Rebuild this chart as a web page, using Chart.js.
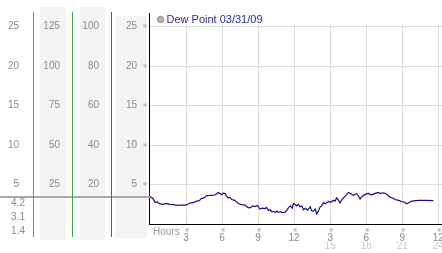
<!DOCTYPE html>
<html>
<head>
<meta charset="utf-8">
<script src="https://cdn.jsdelivr.net/npm/chart.js@4/dist/chart.umd.min.js"></script>
<style>
  body { margin: 0; background: #fff; }
  #wrap { width: 442px; height: 253px; }
</style>
</head>
<body>
<div id="wrap"><canvas id="grafica" width="442" height="253"></canvas></div>
<script>
const hours = [
  0.00, 0.25, 0.42, 0.6, 0.83, 1.1, 1.35, 1.66, 2.0, 2.22,
  2.5, 2.91, 3.1, 3.33, 3.6, 3.89, 4.1, 4.3, 4.5, 4.72,
  5.0, 5.27, 5.45, 5.68, 5.85, 5.96, 6.1, 6.24, 6.4, 6.51,
  6.65, 6.8, 7.07, 7.2, 7.35, 7.63, 7.9, 8.18, 8.4, 8.55,
  8.74, 8.95, 9.15, 9.35, 9.57, 9.7, 9.86, 10.0, 10.15, 10.27,
  10.45, 10.55, 10.69, 10.85, 11.0, 11.25, 11.4, 11.52, 11.7, 11.85,
  11.94, 12.1, 12.22, 12.35, 12.5, 12.65, 12.77, 12.95, 13.1, 13.19,
  13.35, 13.45, 13.6, 13.75, 13.88, 14.0, 14.16, 14.3, 14.44, 14.6,
  14.86, 15.05, 15.27, 15.4, 15.55, 15.7, 15.82, 15.95, 16.1, 16.3,
  16.52, 16.7, 16.93, 17.05, 17.21, 17.35, 17.49, 17.6, 17.76, 17.95,
  18.18, 18.3, 18.46, 18.7, 19.01, 19.2, 19.35, 19.57, 19.75, 19.98,
  20.2, 20.4, 20.7, 20.95, 21.2, 21.37, 21.6, 21.79, 22.34, 22.9,
  23.58
];
const dewPoint = [
  3.5, 3.2, 2.75, 2.8, 2.55, 2.5, 2.6, 2.48, 2.45, 2.35,
  2.4, 2.4, 2.45, 2.65, 2.7, 2.9, 2.95, 3.25, 3.3, 3.6,
  3.62, 3.65, 3.7, 4.0, 3.85, 3.7, 3.9, 3.85, 3.5, 3.3,
  3.4, 3.1, 3.0, 2.8, 2.6, 2.45, 2.4, 2.05, 2.1, 2.3,
  2.2, 2.35, 1.9, 2.0, 1.95, 2.1, 1.7, 1.8, 1.55, 1.6,
  1.45, 1.65, 1.47, 1.55, 1.45, 1.5, 1.8, 2.05, 2.3, 2.0,
  2.6, 2.45, 2.3, 2.5, 2.15, 2.3, 1.8, 2.0, 1.75, 1.9,
  2.2, 1.7, 1.6, 1.9, 1.27, 1.6, 2.15, 2.3, 2.7, 2.55,
  2.85, 2.75, 3.0, 2.9, 3.3, 3.0, 2.65, 3.0, 3.3, 3.6,
  4.0, 3.85, 3.6, 3.75, 3.85, 3.55, 3.15, 3.4, 3.6, 3.75,
  3.9, 3.75, 3.7, 3.85, 4.0, 3.85, 3.95, 3.9, 3.7, 3.4,
  3.3, 3.1, 3.0, 2.85, 2.75, 2.55, 2.75, 2.9, 3.0, 3.0,
  2.95
];
const serieNombre = "Dew Point 03/31/09";
const xTicks = [3, 6, 9, 12, 15, 18, 21, 24];
const xLabels = ["3", "6", "9", "12", "3", "6", "9", "12"];
const xLabels2 = ["", "", "", "", "15", "18", "21", "24"];
const yTicks = [5, 10, 15, 20, 25];
const colA = [5, 10, 15, 20, 25];
const colB = [25, 50, 75, 100, 125];
const colC = [20, 40, 60, 80, 100];
const resumen = ["4.2", "3.1", "1.4"];

const yMax = 25.34;
const fuente = { family: "'Liberation Sans', Arial, sans-serif", size: 10 };
const gris = "#8a8a8a";

function ejeIzq(valores, factor, ancho, pad, peso) {
  return {
    position: 'left', weight: peso, min: 0, max: yMax * factor,
    grid: { display: false, drawTicks: false }, border: { display: false },
    afterBuildTicks: s => { s.ticks = valores.map(v => ({ value: v })); },
    afterFit: s => { s.width = ancho; s.paddingTop = 0; s.paddingBottom = 0; },
    ticks: { font: fuente, color: gris, padding: pad, autoSkip: false }
  };
}

const deco = {
  id: 'deco',
  beforeDraw(chart) {
    const ctx = chart.ctx, s = chart.scales;
    ctx.save();
    ctx.fillStyle = '#f4f4f4';
    ctx.fillRect(s.yB.left + 7, 7, 26, 233);
    ctx.fillRect(s.yC.left + 8, 7, 25, 233);
    ctx.fillRect(s.y.left + 4, 16, s.y.width - 6, 222);
    ctx.restore();
  },
  afterDraw(chart) {
    const ctx = chart.ctx, s = chart.scales;
    ctx.save();
    const yLinea = Math.round(s.y.getPixelForValue(dewPoint[0]));
    ctx.fillStyle = '#a8a8a8';
    ctx.fillRect(0, yLinea, s.y.right + 1, 2);
    ctx.fillStyle = '#2fa5c0';
    ctx.fillRect(Math.round(s.yA.right), 12, 1, 225);
    ctx.fillStyle = '#3aa83a';
    ctx.fillRect(Math.round(s.yB.right), 12, 1, 225);
    ctx.fillStyle = '#b83333';
    ctx.fillRect(Math.round(s.yC.right), 12, 1, 225);
    ctx.fillStyle = '#000';
    ctx.fillRect(Math.round(s.y.right), 13, 1, chart.chartArea.top - 13);

    ctx.font = "10px 'Liberation Sans', Arial, sans-serif";
    ctx.fillStyle = gris;
    ctx.textAlign = 'right';
    ctx.textBaseline = 'middle';
    resumen.forEach((t, i) => ctx.fillText(t, 25, yLinea + 7 + i * 14));

    ctx.textAlign = 'left';
    ctx.fillStyle = '#999';
    ctx.fillText("Hours", s.x.left + 4, 232);

    ctx.font = "6px 'DejaVu Sans', sans-serif";
    ctx.fillStyle = '#999';
    ctx.textAlign = 'center';
    yTicks.forEach(v => ctx.fillText("※", s.y.right - 4, s.y.getPixelForValue(v)));
    xTicks.forEach(v => ctx.fillText("※", s.x.getPixelForValue(v) + 1, 230.5));
    ctx.restore();
  }
};

const ctx = document.getElementById("grafica").getContext("2d");
const grafica = new Chart(ctx, {
  type: 'line',
  data: {
    datasets: [{
      label: serieNombre,
      data: hours.map((h, i) => ({ x: h, y: dewPoint[i] })),
      borderColor: '#121288',
      backgroundColor: '#b4b4b4',
      borderWidth: 1.2,
      pointRadius: 0,
      tension: 0,
      fill: false
    }]
  },
  options: {
    responsive: false,
    animation: false,
    devicePixelRatio: 1,
    layout: { padding: { top: 3, left: 0, right: 0, bottom: 0 } },
    plugins: {
      tooltip: { enabled: false },
      legend: {
        position: 'top', fullSize: false, align: 'start', maxHeight: 21,
        labels: {
          font: { family: "'Liberation Sans', Arial, sans-serif", size: 11 },
          color: '#2a2aa8', usePointStyle: true, pointStyle: 'circle',
          boxWidth: 1, boxHeight: 4.5, padding: 11,
          generateLabels: chart => Chart.defaults.plugins.legend.labels.generateLabels(chart)
            .map(l => Object.assign(l, { fillStyle: '#b4b4b4', strokeStyle: '#8c8c8c', lineWidth: 1 }))
        }
      }
    },
    scales: {
      x: {
        type: 'linear', position: 'bottom', min: -0.08, max: 24.31,
        grid: { color: '#dcdcdc', drawTicks: false },
        border: { color: '#000', width: 1 },
        afterBuildTicks: s => { s.ticks = xTicks.map(v => ({ value: v })); },
        afterFit: s => { s.height = 18; s.paddingLeft = 0; s.paddingRight = 0; },
        ticks: { font: fuente, color: gris, padding: 8, maxRotation: 0, autoSkip: false,
          callback: (v, i) => xLabels[i] }
      },
      x2: {
        type: 'linear', position: 'bottom', min: -0.08, max: 24.31,
        grid: { display: false, drawTicks: false }, border: { display: false },
        afterBuildTicks: s => { s.ticks = xTicks.map(v => ({ value: v })); },
        afterFit: s => { s.height = 11; s.paddingLeft = 0; s.paddingRight = 0; },
        ticks: { font: fuente, color: '#c8c8c8', padding: -1.5, maxRotation: 0, autoSkip: false,
          callback: (v, i) => xLabels2[i] }
      },
      y: {
        position: 'left', weight: 0, min: 0, max: yMax,
        grid: { color: '#dcdcdc', drawTicks: false },
        border: { color: '#000', width: 1 },
        afterBuildTicks: s => { s.ticks = yTicks.map(v => ({ value: v })); },
        afterFit: s => { s.width = 38; s.paddingTop = 0; s.paddingBottom = 0; },
        ticks: { font: fuente, color: gris, padding: 12, autoSkip: false }
      },
      yC: ejeIzq(colC, 4, 39, 12, 1),
      yB: ejeIzq(colB, 5, 39, 12, 2),
      yA: ejeIzq(colA, 1, 33, 14, 3)
    }
  },
  plugins: [deco]
});
</script>
</body>
</html>
